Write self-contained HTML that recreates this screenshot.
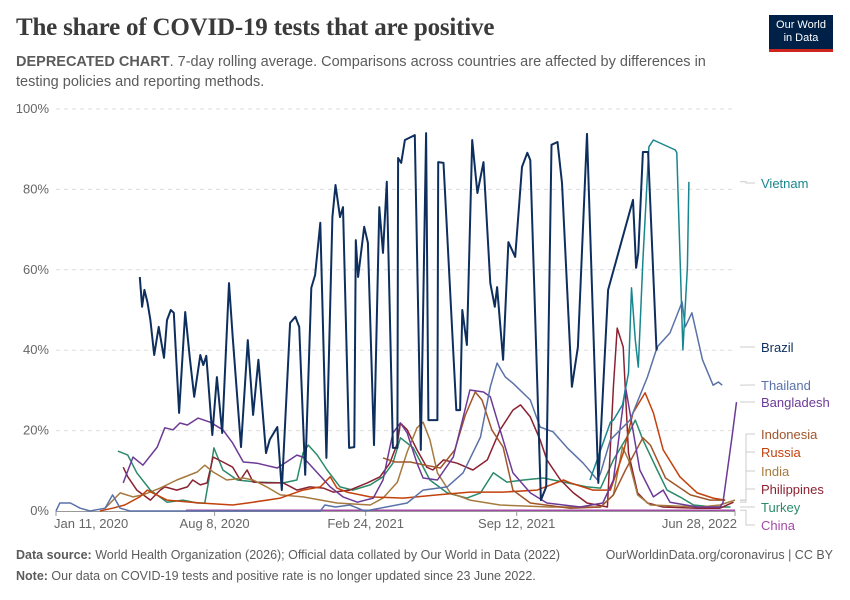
<!DOCTYPE html>
<html><head><meta charset="utf-8">
<style>
body{margin:0;background:#fff;font-family:"Liberation Sans",sans-serif;}
#wrap{position:relative;width:850px;height:600px;overflow:hidden;}
.title{position:absolute;left:16px;top:14px;font-family:"Liberation Serif",serif;font-size:25px;color:#3a3a3a;font-weight:bold;letter-spacing:-0.2px}
.sub{position:absolute;left:16px;top:52px;width:720px;font-size:14.5px;line-height:20px;color:#5b5b5b}
.logo{position:absolute;left:769px;top:15px;width:64px;height:37px;background:#002147;color:#fff;font-size:11px;line-height:13px;text-align:center;padding-top:4px;box-sizing:border-box;border-bottom:3px solid #ce261e}
.foot{position:absolute;left:16px;font-size:12.5px;color:#5b5b5b}
</style></head><body>
<div id="wrap">
<div class="title">The share of COVID-19 tests that are positive</div>
<div class="sub"><b>DEPRECATED CHART</b>. 7-day rolling average. Comparisons across countries are affected by differences in testing policies and reporting methods.</div>
<div class="logo">Our World<br>in Data</div>
<svg id="chart" width="850" height="600" style="position:absolute;left:0;top:0"></svg>
<div class="foot" style="top:548px"><b>Data source:</b> World Health Organization (2026); Official data collated by Our World in Data (2022)</div>
<div class="foot" style="top:548px;left:auto;right:17px">OurWorldinData.org/coronavirus | CC BY</div>
<div class="foot" style="top:569px"><b>Note:</b> Our data on COVID-19 tests and positive rate is no longer updated since 23 June 2022.</div>
</div>
<script>
const yTicks=[0,20,40,60,80,100];
const xTickDays=[0,210,410,610,899];
const xTickLabels=["Jan 11, 2020","Aug 8, 2020","Feb 24, 2021","Sep 12, 2021","Jun 28, 2022"];
const brazilDays=[111,114,117,121,125,130,136,143,147,152,156,163,171,177,183,191,195,199,207,213,220,229,234,245,254,261,268,278,283,293,299,310,317,322,330,338,343,350,358,366,370,376,380,388,395,397,400,408,413,421,428,433,438,446,452,453,457,462,475,483,490,493,505,506,513,530,535,538,544,551,558,566,575,581,584,592,599,608,617,624,628,642,649,656,664,670,683,691,703,718,731,764,768,771,777,784,795,796];
const brazilVals=[58.2,50.8,55,52,47.5,38.8,45.8,38.1,47.5,50,49.3,24.4,49.5,38.3,28.4,38.8,36.3,38.6,18.9,33.3,19.4,56.7,43.3,15.9,42.5,23.9,37.6,14.4,17.7,20.9,5.2,46.8,48.3,45.8,9,55.5,58.7,71.7,13.2,73.1,81.1,73.1,75.6,15.7,15.9,67.4,58.2,70.7,66.7,16.4,75.6,64.2,81.9,15.7,15.7,87.8,86.6,92.3,93.5,15.2,94,22.6,22.6,86.8,86.6,25.1,25.1,50,41.3,92.3,79.1,86.8,56.7,50.8,55.7,37.6,66.9,63.2,85.6,89.1,87.3,2.7,6,91.1,91.8,81.6,30.9,40.8,93.8,7,55,77.4,60.5,64.2,89.3,89.3,40.1,40.8];
const vietnamDays=[707,734,738,750,758,762,767,771,777,785,791,820,822,830,836,838];
const vietnamVals=[7.7,22.1,22.6,26.4,34.3,55.5,42.5,35.8,62.4,90.6,92.3,89.8,89.1,40.1,60.7,81.9];
const thailandDays=[0,5,19,32,45,65,75,85,98,350,356,370,389,409,429,465,486,518,539,562,575,584,595,605,628,641,658,677,698,717,721,734,760,783,796,813,829,833,842,856,870,877,882];
const thailandVals=[0,2,2,0.7,0,0.7,4,0.7,0,0,1.5,1,1.5,0,0.7,2,5.2,6,9.5,18.4,30.9,36.8,33.3,31.8,27.6,20.9,19.7,15.7,11.9,7.7,9.5,17.7,22.6,33.3,40.8,44.3,52,45.8,49.3,37.6,31.3,32.1,31.3];
const bangladeshDays=[89,102,115,134,144,155,164,174,188,204,221,234,248,266,293,319,327,346,363,380,399,420,433,446,456,465,478,486,505,526,548,566,575,588,605,628,650,694,724,738,754,760,773,791,804,813,849,879,883,895,901];
const bangladeshVals=[7,13.4,11.4,15.9,20.7,20.2,21.9,21.4,23.1,22.1,20.2,16.9,12.2,11.9,10.7,13.9,13.4,9.5,6,3.5,2.2,3.2,7.7,19.4,21.9,19.4,11.9,8.2,7.7,13.4,30.1,29.6,28.4,20.2,9.5,4.5,2,1,2,7.7,30.9,24.4,10.2,3.5,5.2,2.2,1,1,2,18.4,27.1];
const indonesiaDays=[433,449,469,489,509,528,542,555,564,577,592,605,628,681,721,738,754,777,787,807,840,866,886];
const indonesiaVals=[13.2,12.2,12.2,11.4,10.7,15.2,23.9,29.6,27.6,20.2,15.9,5.2,2,0.7,1,4,10.2,18.2,16.4,8.2,4,2.7,2.7];
const russiaDays=[58,75,91,111,121,128,147,191,234,261,297,327,350,363,372,385,416,460,505,548,592,637,672,681,711,734,751,764,780,791,804,826,849,870,886];
const russiaVals=[0,0.7,1.5,3.5,5.2,4.5,2.7,2,1.5,2.2,3.2,5.2,6,8.5,5.7,4.7,3.5,3.2,4,4.7,4.7,5.2,7.7,7,5.2,5.2,14.4,24.4,29.4,24.4,15.2,8.5,4.5,3.2,2.7];
const indiaDays=[65,85,102,115,138,160,187,197,208,226,248,261,279,297,327,372,416,433,452,465,478,486,495,505,522,548,588,654,721,738,750,758,770,787,853,879,899];
const indiaVals=[0.7,4.5,3.5,4,5.7,7.7,9.7,11.4,9.7,7.7,8.2,7.7,6,4,3.5,2,1.5,3.2,7.2,14.7,20.7,22.1,17.7,9.5,4.5,2.7,1.5,1,1,4,15.9,12.7,4,1.5,1,1.5,2.7];
const philippinesDays=[89,95,107,125,138,144,160,174,181,191,200,208,221,234,244,253,261,279,301,319,336,354,367,389,412,429,442,452,456,465,478,491,499,513,531,552,571,588,605,615,628,641,650,668,685,703,730,738,743,751,758,770,783,804,849,879,897];
const philippinesVals=[10.9,8.5,5.2,2.7,5.2,6,5.2,6,7.7,6.5,7,13.4,12.2,10.9,7.7,10.2,7.2,7,7,5.2,6,5.7,4.7,5.2,7,8.5,11.9,16.9,21.9,20.2,15.2,10.9,10.2,12.7,11.9,10.2,12.7,20.2,25.1,26.4,23.4,17.7,12.7,7.7,4.5,2,1,30.9,45.5,40.8,14.4,4.5,2,1,0.7,0.7,2.2];
const turkeyDays=[82,95,107,125,147,168,187,197,204,209,221,240,266,301,319,327,334,346,359,376,393,416,433,446,456,473,495,518,544,562,579,597,619,645,672,703,721,738,756,767,777,796,809,826,844,870,893];
const turkeyVals=[14.9,13.9,9.5,5.2,2.2,2.7,2,2,9.5,15.7,10.2,7.7,7.2,7,7.7,14.4,16.4,13.9,10.2,6,5.2,6.5,8.5,11.9,18.2,15.7,7.7,4.5,3.2,4.5,9.5,7.2,7.7,8.2,7.2,6,5.7,12.7,18.4,22.6,17.7,10.2,5.2,3.5,1.5,1,1];
const chinaDays=[172,300,500,700,899];
const chinaVals=[0.2,0.2,0.2,0.2,0.2];

const NS="http://www.w3.org/2000/svg";
const svg=document.getElementById('chart');
const X0=56,X1=735,Y0=511,Y1=109,DMAX=899;
function xs(d){return X0+d*(X1-X0)/DMAX;}
function ys(v){return Y0-v*(Y0-Y1)/100;}
function mk(t,a){const e=document.createElementNS(NS,t);for(const k in a)e.setAttribute(k,a[k]);svg.appendChild(e);return e;}
yTicks.forEach(t=>{
  const y=ys(t);
  if(t>0){const g=mk('line',{x1:X0,x2:X1,y1:y,y2:y,stroke:'#dcdcdc','stroke-dasharray':'4,4'});
  
  }
  const l=mk('text',{x:49,y:y+4,'text-anchor':'end','font-size':'13','fill':'#666','font-family':'Liberation Sans, sans-serif'});
  l.textContent=t+'%';
  
  
});
const ax=mk('line',{x1:X0,x2:X1,y1:Y0+0.5,y2:Y0+0.5,stroke:'#999'});


xTickDays.forEach((d,i)=>{
  const x=xs(d);
  const tk=mk('line',{x1:x,x2:x,y1:Y0,y2:Y0+5,stroke:'#999'});
  
  
  const anchor=i==0?'start':(i==xTickDays.length-1?'end':'middle');
  const tx=i==0?x-2:(i==xTickDays.length-1?x+2:x);
  const l=mk('text',{x:tx,y:528,'text-anchor':anchor,'font-size':'13','fill':'#666','font-family':'Liberation Sans, sans-serif'});
  l.textContent=xTickLabels[i];
  
  
});
const series=[
 ['china',chinaDays,chinaVals,'#a44aa8'],
 ['turkey',turkeyDays,turkeyVals,'#2b8a6a'],
 ['philippines',philippinesDays,philippinesVals,'#8b2231'],
 ['india',indiaDays,indiaVals,'#a67a3e'],
 ['russia',russiaDays,russiaVals,'#c2410c'],
 ['indonesia',indonesiaDays,indonesiaVals,'#a0552b'],
 ['bangladesh',bangladeshDays,bangladeshVals,'#6c3a96'],
 ['thailand',thailandDays,thailandVals,'#5a72a8'],
 ['vietnam',vietnamDays,vietnamVals,'#18868f'],
 ['brazil',brazilDays,brazilVals,'#0e2f5e']
];
series.forEach(s=>{
  const pts=s[1].map((d,i)=>xs(d).toFixed(1)+','+ys(s[2][i]).toFixed(1)).join(' ');
  const p=mk('polyline',{points:pts,fill:'none',stroke:s[3],'stroke-width':s[0]=='brazil'?2:1.5,'stroke-linejoin':'round'});
  
  
});
const legend=[['Vietnam',188,'#18868f',vietnamVals],['Brazil',352,'#0e2f5e',brazilVals],['Thailand',390,'#5a72a8',thailandVals],['Bangladesh',407,'#6c3a96',bangladeshVals],['Indonesia',439,'#a0552b',indonesiaVals],['Russia',457,'#c2410c',russiaVals],['India',476,'#a67a3e',indiaVals],['Philippines',494,'#8b2231',philippinesVals],['Turkey',512,'#2b8a6a',turkeyVals],['China',530,'#a44aa8',chinaVals]];
legend.forEach(l=>{
  const ly=l[1]-5;const vy=ys(l[3][l[3].length-1]);
  const c=mk('polyline',{points:`740,${vy} 746,${vy} 746,${ly} 755,${ly}`,fill:'none',stroke:'#ccc'});
  
  
  const t=mk('text',{x:761,y:l[1],'font-size':'13','fill':l[2],'font-family':'Liberation Sans, sans-serif'});
  t.textContent=l[0];
  
  
});
</script>
</body></html>
